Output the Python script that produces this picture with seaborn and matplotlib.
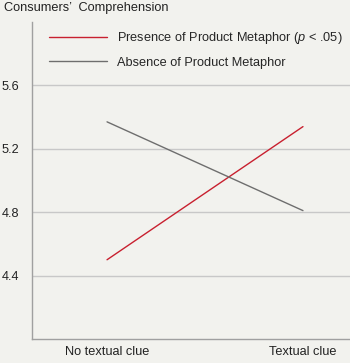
import matplotlib
matplotlib.use("Agg")
import matplotlib.pyplot as plt
import seaborn as sns
import pandas as pd
from matplotlib.lines import Line2D

conditions = ["No textual clue", "Textual clue"]
presence = [4.50, 5.34]
absence = [5.37, 4.81]
series_labels = ["Presence of Product Metaphor ($\\it{p}$ < .05)", "Absence of Product Metaphor"]
yticks = [4.4, 4.8, 5.2, 5.6]

df = pd.DataFrame({
    "x": [0, 1, 0, 1],
    "y": presence + absence,
    "series": [series_labels[0]] * 2 + [series_labels[1]] * 2,
})

sns.set_theme(style="white")
plt.rcParams["font.family"] = ["Liberation Sans", "DejaVu Sans"]
plt.rcParams["mathtext.fontset"] = "custom"
plt.rcParams["mathtext.it"] = "Liberation Sans:italic"
plt.rcParams["mathtext.rm"] = "Liberation Sans"

fs = 9.2
bg = "#f2f2ee"
fig = plt.figure(figsize=(3.5, 3.63), dpi=100, facecolor=bg)
ax = fig.add_axes([32 / 350, 1 - 339 / 363, 318 / 350, 317 / 363])
ax.set_facecolor(bg)

sns.lineplot(data=df, x="x", y="y", hue="series",
             palette=["#c8202f", "#6e6e6e"], linewidth=1.0, ax=ax, legend=False)

ax.set_xlim(-0.383, 1.24)
ax.set_ylim(4.0, 6.0)
ax.set_yticks(yticks)
ax.set_yticklabels([f"{v:.1f}" for v in yticks])
ax.set_xticks([0, 1])
ax.set_xticklabels(conditions)
ax.grid(axis="y", color="#c8c8c8", linewidth=1.0)
ax.set_axisbelow(True)
for s in ["top", "right"]:
    ax.spines[s].set_visible(False)
for s in ["left", "bottom"]:
    ax.spines[s].set_color("#a0a0a0")
    ax.spines[s].set_linewidth(1.0)
ax.tick_params(axis="y", length=0, labelsize=fs, colors="#222222", pad=9)
ax.tick_params(axis="x", length=2, color="#a0a0a0", labelsize=fs, labelcolor="#222222", pad=5, direction="in")
ax.set_xlabel("")
ax.set_ylabel("")

handles = [Line2D([], [], color="#c8202f", lw=1.0), Line2D([], [], color="#6e6e6e", lw=1.0)]
ax.legend(handles, series_labels, loc="upper left",
          bbox_to_anchor=(49 / 350, 1 - 30 / 363), bbox_transform=fig.transFigure,
          frameon=False, fontsize=fs, handlelength=4.55, handletextpad=0.75,
          labelspacing=0.85, borderaxespad=0, borderpad=0)

fig.text(4 / 350, 1 - 8 / 363, "Consumers\u2019  Comprehension", fontsize=fs,
         color="#222222", va="center", ha="left")

fig.savefig("out.png", dpi=100, facecolor=bg)
